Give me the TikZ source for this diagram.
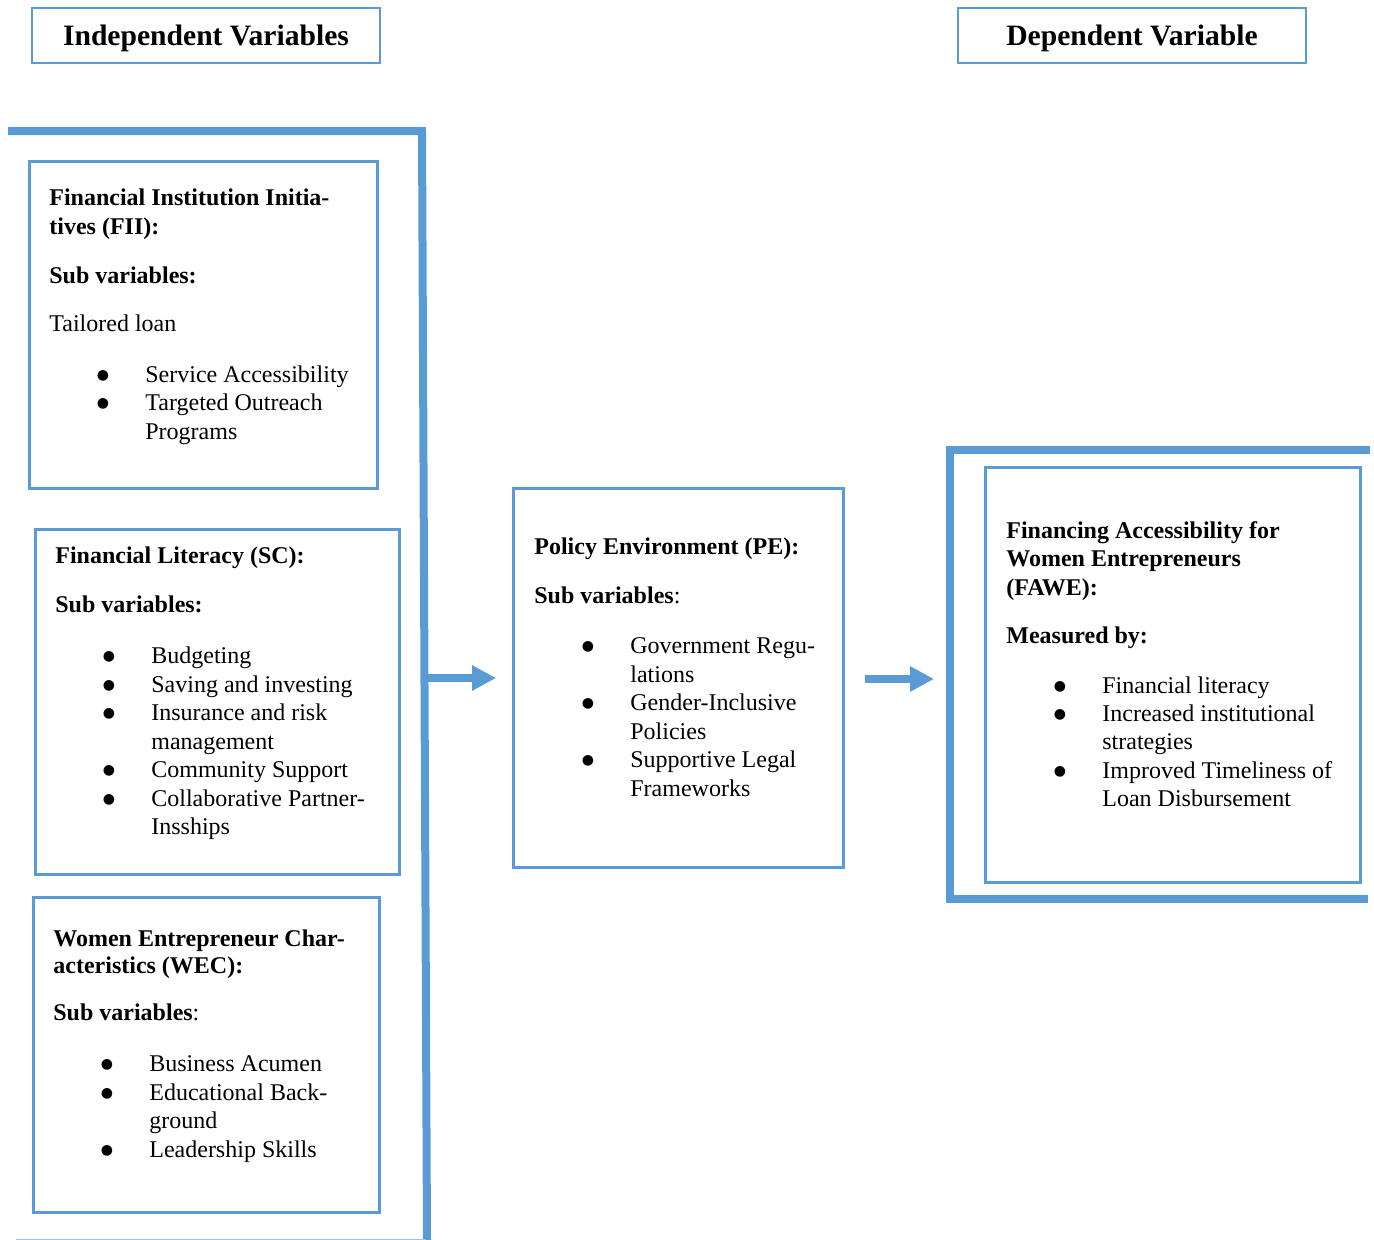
\documentclass[tikz,border=0pt]{standalone}
\usepackage{fontspec}
\setmainfont{Liberation Serif}
\newfontfamily\symfont{DejaVu Sans}
\usetikzlibrary{arrows.meta}

\definecolor{frameblue}{RGB}{91,155,213}
\newcommand{\bul}{\makebox[96pt][l]{\hspace*{47.5pt}\raisebox{3pt}{\symfont\fontsize{14}{14}\selectfont ●}}}
\newcommand{\ind}{\hspace*{96pt}}

\tikzset{every picture/.style={line width=0.75pt}}
\tikzset{
  box/.style={draw=frameblue, line width=2.5pt, rectangle, inner sep=0pt, anchor=north west},
  hdr/.style={draw=frameblue, line width=2.5pt, rectangle, inner sep=0pt,
    minimum width=348pt, minimum height=55pt, text height=22pt, text depth=3pt,
    font=\fontsize{29.6}{34}\selectfont\bfseries},
  txt/.style={anchor=north west, inner sep=0pt, align=left, font=\fontsize{24}{28.5}\selectfont},
  bracket/.style={draw=frameblue, line width=8pt, line join=miter},
  flow/.style={draw=frameblue, line width=8pt, -{Triangle[length=24pt,width=24pt]}}
}

\begin{document}
\begin{tikzpicture}[x=1pt,y=1pt,yscale=-1,xscale=1]
	\useasboundingbox (0,0) rectangle (1374,1240);
	
	%Header boxes
	\node [hdr] (indep) at (206,35.5) {Independent Variables};
	\node [hdr] (dep) at (1132,35.5) {Dependent Variable};
	
	%Shape: Bracket left
	\draw [bracket] (8,131) -- (422,131) -- (427,1240) ;
	\draw [draw=frameblue!60, line width=1pt] (16,1239) -- (426,1239) ;
	%Shape: Bracket right
	\draw [bracket] (1370,450) -- (950,450) -- (950,899) -- (1368,899) ;
	
	%Shape: Rectangle
	\node [box, minimum width=348pt, minimum height=327pt] (fii) at (28,160) {};
	%Shape: Rectangle
	\node [box, minimum width=364pt, minimum height=345pt] (sc) at (34,528) {};
	%Shape: Rectangle
	\node [box, minimum width=346pt, minimum height=315pt] (wec) at (32,896) {};
	%Shape: Rectangle
	\node [box, minimum width=330pt, minimum height=379pt] (pe) at (512,487) {};
	%Shape: Rectangle
	\node [box, minimum width=375pt, minimum height=415pt] (fawe) at (984,466) {};
	
	% Text Node
	\node [txt] (fiitext) at (49,188.5) {\textbf{Financial Institution Initia-}\\
		\textbf{tives (FII):}\\[20.5pt]
		\textbf{Sub variables:}\\[19.5pt]
		Tailored loan\\[22.5pt]
		\bul Service Accessibility\\
		\bul Targeted Outreach\\
		\ind Programs};
	% Text Node
	\node [txt] (sctext) at (55,546.5) {\textbf{Financial Literacy (SC):}\\[20.5pt]
		\textbf{Sub variables:}\\[22.5pt]
		\bul Budgeting\\
		\bul Saving and investing\\
		\bul Insurance and risk\\
		\ind management\\
		\bul Community Support\\
		\bul Collaborative Partner-\\
		\ind Insships};
	% Text Node
	\node [txt] (wectext) at (53,929.5) {\textbf{Women Entrepreneur Char-}\\[-1.5pt]
		\textbf{acteristics (WEC):}\\[18.5pt]
		\textbf{Sub variables}:\\[22.5pt]
		\bul Business Acumen\\
		\bul Educational Back-\\
		\ind ground\\
		\bul Leadership Skills};
	% Text Node
	\node [txt] (petext) at (534,537.5) {\textbf{Policy Environment (PE):}\\[20.5pt]
		\textbf{Sub variables}:\\[21.5pt]
		\bul Government Regu-\\
		\ind lations\\
		\bul Gender-Inclusive\\
		\ind Policies\\
		\bul Supportive Legal\\
		\ind Frameworks};
	% Text Node
	\node [txt, font=\fontsize{24}{28.2}\selectfont] (fawetext) at (1006,521.5) {\textbf{Financing Accessibility for}\\
		\textbf{Women Entrepreneurs}\\
		\textbf{(FAWE):}\\[20.5pt]
		\textbf{Measured by:}\\[21.5pt]
		\bul Financial literacy\\
		\bul Increased institutional\\
		\ind strategies\\
		\bul Improved Timeliness of\\
		\ind Loan Disbursement};
	
	% Connection
	\coordinate (lbar) at (424,678);
	\coordinate (rbar) at (950,679);
	\draw [flow, shorten >=16pt] (lbar) -- (lbar -| pe.west) ;
	% Connection
	\draw [flow, shorten <=20pt, shorten >=16pt] (pe.east |- rbar) -- (rbar) ;
	
\end{tikzpicture}
\end{document}
